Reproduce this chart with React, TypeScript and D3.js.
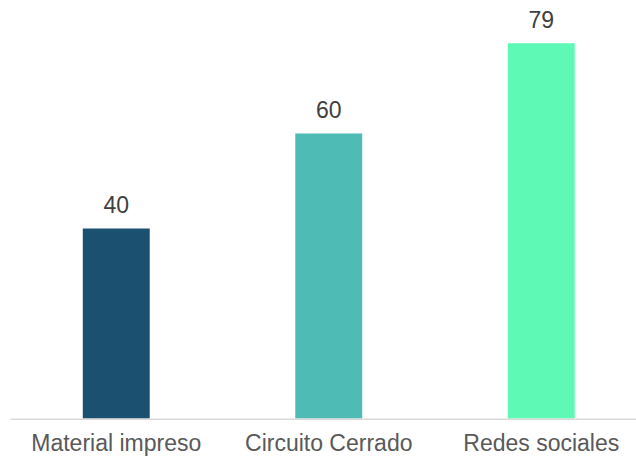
import React from "react";
import * as d3 from "d3";

const categories = ["Material impreso", "Circuito Cerrado", "Redes sociales"];
const values = [40, 60, 79];
const colors = ["#1b5070", "#4fbbb5", "#5ef9b5"];

const W = 636;
const H = 456;
const baseline = 418.5;

export default function App() {
  const x = d3.scaleBand<string>().domain(categories).range([10, 647.5]).padding(0);
  const y = d3.scaleLinear().domain([0, 88]).range([baseline, 0.5]);
  const barW = x.bandwidth() * 0.315;
  const font = "Helvetica, Arial, 'Liberation Sans', sans-serif";
  return (
    <svg
      width={W}
      height={H}
      style={{ position: "absolute", left: 0, top: 0, background: "#fff" }}
    >
      {categories.map((c, i) => {
        const cx = (x(c) as number) + x.bandwidth() / 2;
        return (
          <g key={c}>
            <rect
              x={cx - barW / 2}
              y={y(values[i])}
              width={barW}
              height={baseline - y(values[i])}
              fill={colors[i]}
            />
            <text
              x={cx}
              y={y(values[i]) - 15.5}
              textAnchor="middle"
              fontFamily={font}
              fontSize={23}
              fill="#404040"
            >
              {values[i]}
            </text>
            <text
              x={cx}
              y={450.5}
              textAnchor="middle"
              fontFamily={font}
              fontSize={23}
              fill="#595959"
            >
              {c}
            </text>
          </g>
        );
      })}
      <line x1={10.5} x2={W} y1={419.3} y2={419.3} stroke="#d9d9d9" strokeWidth={1.6} />
    </svg>
  );
}
